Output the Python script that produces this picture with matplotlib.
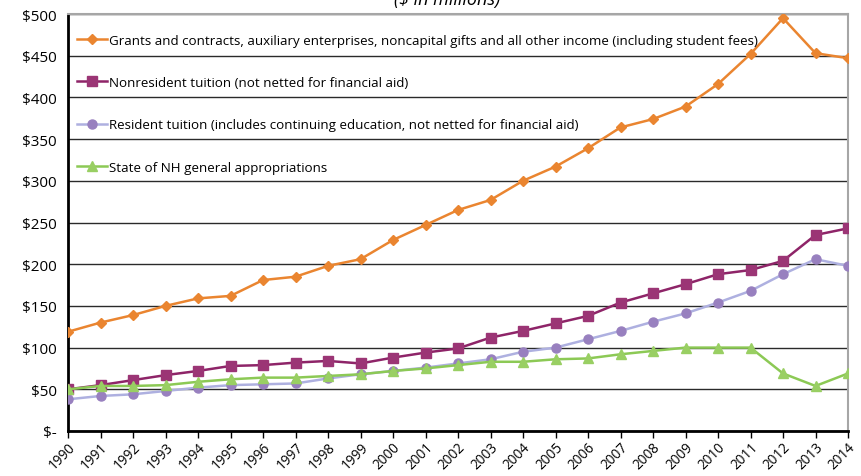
import matplotlib
matplotlib.use("Agg")
import matplotlib.pyplot as plt

years = list(range(1990, 2015))
grants = [119, 130, 139, 150, 159, 162, 181, 185, 198, 206, 229, 247, 265, 277, 300, 317, 339, 364, 374, 389, 416, 452, 495, 453, 447]
nonresident = [50, 55, 61, 67, 72, 78, 79, 82, 84, 81, 88, 94, 99, 112, 120, 129, 138, 154, 165, 176, 188, 193, 204, 235, 243]
resident = [38, 42, 44, 48, 52, 55, 56, 57, 63, 68, 72, 76, 81, 86, 95, 100, 110, 120, 131, 141, 154, 168, 188, 206, 198]
state = [50, 54, 54, 55, 59, 62, 64, 64, 66, 68, 72, 75, 79, 83, 83, 86, 87, 92, 96, 100, 100, 100, 69, 54, 69]

labels = [
    "Grants and contracts, auxiliary enterprises, noncapital gifts and all other income (including student fees)",
    "Nonresident tuition (not netted for financial aid)",
    "Resident tuition (includes continuing education, not netted for financial aid)",
    "State of NH general appropriations",
]
yticks = [0, 50, 100, 150, 200, 250, 300, 350, 400, 450, 500]
ytick_labels = ["$-", "$50", "$100", "$150", "$200", "$250", "$300", "$350", "$400", "$450", "$500"]

plt.rcParams['font.family'] = ['Open Sans', 'DejaVu Sans']

fig = plt.figure(figsize=(8.61, 4.77), dpi=100)
ax = fig.add_axes([68/861, 1 - 432/477, (848 - 68)/861, (432 - 15)/477])

styles = [
    dict(color="#EA8530", marker="D", ms=5.5, mfc="#EA8530", mec="#EA8530"),
    dict(color="#8E2468", marker="s", ms=7, mfc="#9B3575", mec="#9B3575"),
    dict(color="#AEB0E0", marker="o", ms=6.5, mfc="#9880BF", mec="#9880BF"),
    dict(color="#8CC955", marker="^", ms=7, mfc="#99CF63", mec="#99CF63"),
]
for data, lab, st in zip([grants, nonresident, resident, state], labels, styles):
    ax.plot(years, data, lw=1.8, label=lab, zorder=3, **st)

ax.set_xlim(1990, 2014)
ax.set_ylim(0, 500)
ax.set_yticks(yticks)
ax.set_yticklabels(ytick_labels, fontsize=11)
ax.set_xticks(years)
ax.set_xticklabels([str(y) for y in years], rotation=45, ha="right", rotation_mode="anchor", fontsize=9.8)
ax.tick_params(axis="y", length=0, pad=8)
ax.tick_params(axis="x", length=5, width=1, color="black", direction="out", pad=1)
ax.yaxis.grid(True, color="#2a2a2a", lw=1)
ax.set_axisbelow(True)
for s in ["left", "bottom"]:
    ax.spines[s].set_color("black")
    ax.spines[s].set_linewidth(2)
for s in ["top", "right"]:
    ax.spines[s].set_color("#a6a6a6")
    ax.spines[s].set_linewidth(1.5)

leg = ax.legend(loc="upper left", bbox_to_anchor=(0.0, 0.975), frameon=False, fontsize=9.6,
                handlelength=2.2, handletextpad=0.2, labelspacing=2.2, borderaxespad=0.3)

fig.text(447/861, 1.0, "($ in millions)", ha="center", va="center", fontsize=13, style="italic")

fig.savefig("out.png", dpi=100)
